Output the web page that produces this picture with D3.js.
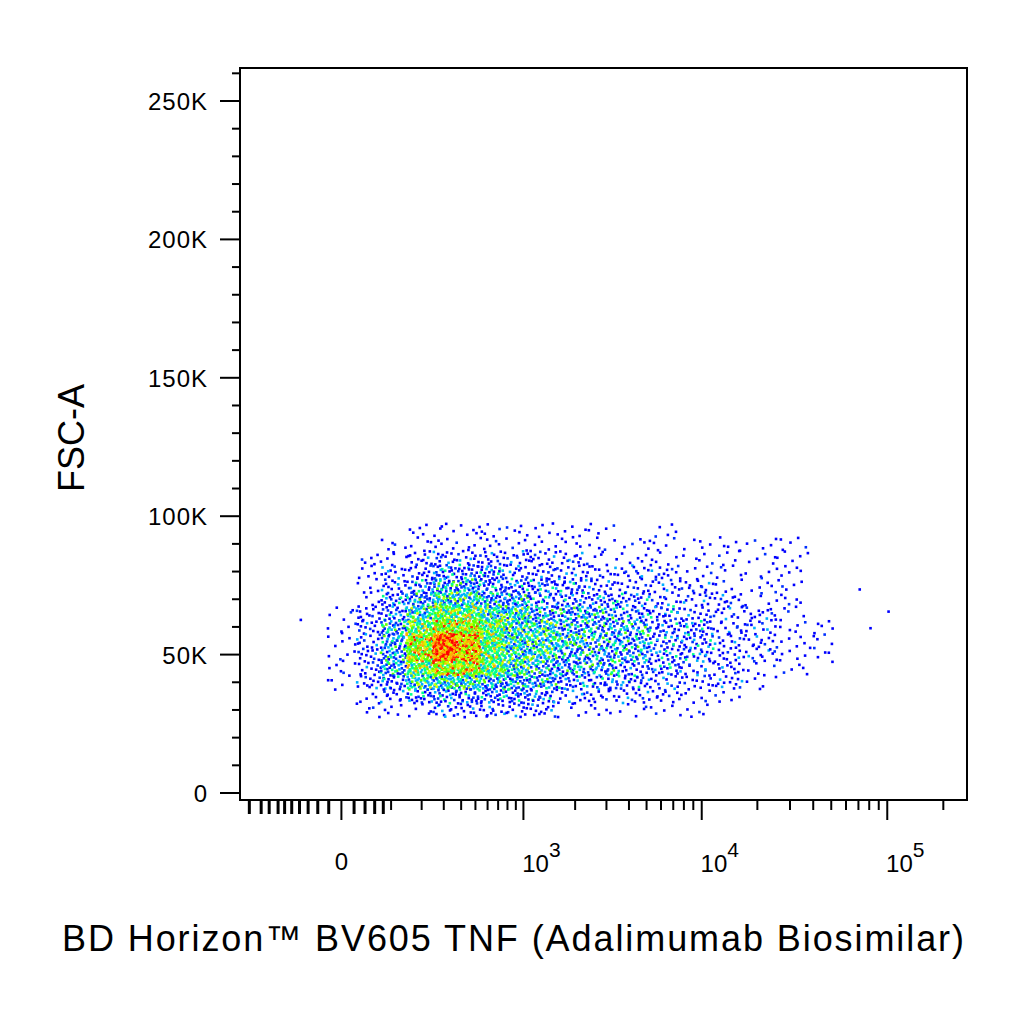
<!DOCTYPE html>
<html><head><meta charset="utf-8">
<script src="https://cdn.jsdelivr.net/npm/d3@7"></script>
<style>body{margin:0;background:#fff}text{font-family:"Liberation Sans",Arial,sans-serif}</style>
</head><body><svg id="c" width="1024" height="1024"></svg>
<script>
const xCenters=[0,50,100,200,300,450,650,900,1300,1900,2800,4200,6300,9500,14000,21000,31000,45000];
const yCenters=[95,90,85,80,75,70,65,60,55,50,45,40,35,30]; // thousands
const density=[
[0,0,0,1,1,1,1,1,1,1,1,0,1,0,0,0,0,0],
[0,0,1,1,1,1,1,1,1,1,1,1,1,1,1,1,1,0],
[0,1,1,2,2,2,2,2,2,2,1,1,1,1,1,1,1,0],
[0,1,2,2,3,3,3,2,2,2,2,2,2,1,1,1,1,0],
[0,1,2,3,4,4,3,3,3,3,2,2,2,2,1,1,1,0],
[0,1,3,4,5,5,4,4,3,3,3,3,2,2,2,1,1,0],
[1,2,3,5,6,6,5,5,4,4,4,3,3,2,2,2,1,0],
[1,2,4,6,7,7,6,5,5,4,4,4,3,3,2,2,1,1],
[1,2,4,7,9,8,6,5,5,5,4,4,3,3,2,2,1,1],
[1,2,4,7,9,8,6,5,5,4,4,4,3,3,2,2,1,1],
[1,2,4,6,7,7,6,5,4,4,4,3,3,2,2,1,1,0],
[1,2,3,5,5,5,4,4,4,3,3,3,2,2,2,1,0,0],
[0,1,2,3,3,3,3,3,3,2,2,2,2,1,1,0,0,0],
[0,1,1,1,2,2,2,2,2,1,1,1,1,1,0,0,0,0]];
const outliers=[[-80,63],[70000,74],[100000,66],[80000,60]];
const yTickVals=[0,50,100,150,200,250];
const yTickLabels=["0","50K","100K","150K","200K","250K"];

const svg=d3.select("#c");
const L=240,R=967,T=68,B=800;
const x=d3.scaleSymlog().constant(118).domain([-295,268000]).range([L,R]);
const y=d3.scaleLinear().domain([0,250]).range([793,101]);

function halton(i,b){let f=1,r=0;while(i>0){f/=b;r+=f*(i%b);i=Math.floor(i/b);}return r;}
const cols=["#0000ff","#0000ff","#0000ff","#0030ff","#00b0ff","#00ff90","#60ff00","#d0ff00","#ffb000","#ff2000","#ff0000"];
const col=v=>cols[Math.max(0,Math.min(10,Math.round(v)))];
const g=svg.append("g");
const xs=xCenters.map(v=>x(v)), ys=yCenters.map(v=>y(v));
let k=1;
density.forEach((row,ri)=>row.forEach((d,ci)=>{
  if(!d) return;
  const x0=ci>0?(xs[ci-1]+xs[ci])/2:xs[ci]-14, x1=ci<xs.length-1?(xs[ci]+xs[ci+1])/2:xs[ci]+14;
  const y0=ys[ri]-7, y1=ys[ri]+7;
  const n=Math.round(5*Math.pow(d,1.4));
  for(let i=0;i<n;i++,k++){
    const hx=halton(k,2),hy=halton(k,3),hc=halton(k,5);
    g.append("rect").attr("x",x0+hx*(x1-x0)-1).attr("y",y0+hy*(y1-y0)-1).attr("width",2.6).attr("height",2.6)
     .attr("fill",col(d + Math.pow(hc,2)*4 - 1.6));
  }
}));
outliers.forEach(o=>g.append("rect").attr("x",x(o[0])).attr("y",y(o[1])).attr("width",2.6).attr("height",2.6).attr("fill","#0000ff"));

svg.append("rect").attr("x",L).attr("y",T).attr("width",R-L).attr("height",B-T).attr("fill","none").attr("stroke","#000").attr("stroke-width",2);
const ya=svg.append("g");
for(let v=0;v<=260;v+=10){
  const major=v%50===0;
  ya.append("line").attr("x1",L).attr("x2",L-(major?20:8)).attr("y1",y(v)).attr("y2",y(v)).attr("stroke","#000").attr("stroke-width",2);
}
yTickVals.forEach((v,i)=>ya.append("text").attr("x",208).attr("y",y(v)+9).attr("text-anchor","end").attr("font-size",24).attr("letter-spacing",1).text(yTickLabels[i]));
const xa=svg.append("g");
const minor=[];
[-250,-200,-170,-140,-120,-100,-80,-60,-40,-20].forEach(v=>minor.push(v));
[20,40,60,80,100,200,300,400,500,600,700,800,900].forEach(v=>minor.push(v));
for(let e=3;e<=5;e++)for(let m=2;m<=9;m++){const v=m*Math.pow(10,e);if(v<268000)minor.push(v);}
minor.forEach(v=>xa.append("line").attr("x1",x(v)).attr("x2",x(v)).attr("y1",B).attr("y2",B+(v<100?14:10)).attr("stroke","#000").attr("stroke-width",v<100?3:2));
[0,1000,10000,100000].forEach(v=>xa.append("line").attr("x1",x(v)).attr("x2",x(v)).attr("y1",B).attr("y2",B+20).attr("stroke","#000").attr("stroke-width",2));
xa.append("text").attr("x",x(0)).attr("y",870).attr("text-anchor","middle").attr("font-size",24).text("0");
[[1000,"3"],[10000,"4"],[100000,"5"]].forEach(([v,e])=>{
  const t=xa.append("text").attr("x",x(v)+18).attr("y",872).attr("text-anchor","middle").attr("font-size",24);
  t.append("tspan").text("10");
  t.append("tspan").attr("dy",-15).attr("font-size",21).text(e);
});
svg.append("text").attr("transform","translate(84,438) rotate(-90)").attr("text-anchor","middle").attr("font-size",36).text("FSC-A");
svg.append("text").attr("x",513).attr("y",951).attr("text-anchor","middle").attr("font-size",36).attr("textLength",902).text("BD Horizon™ BV605 TNF (Adalimumab Biosimilar)");
</script></body></html>
